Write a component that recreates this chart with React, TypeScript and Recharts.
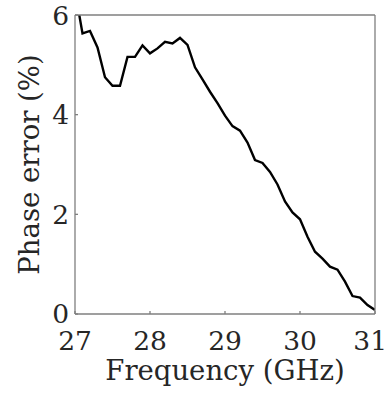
import { LineChart, Line, XAxis, YAxis } from "recharts";

const frequency = [
  27.0, 27.1, 27.2, 27.3, 27.4, 27.5, 27.6, 27.7, 27.8, 27.9,
  28.0, 28.1, 28.2, 28.3, 28.4, 28.5, 28.6, 28.7, 28.8, 28.9,
  29.0, 29.1, 29.2, 29.3, 29.4, 29.5, 29.6, 29.7, 29.8, 29.9,
  30.0, 30.1, 30.2, 30.3, 30.4, 30.5, 30.6, 30.7, 30.8, 30.9, 31.0,
];

const phaseError = [
  6.49, 5.63, 5.68, 5.35, 4.75, 4.58, 4.58, 5.16, 5.16, 5.39,
  5.23, 5.33, 5.46, 5.43, 5.54, 5.40, 4.95, 4.71, 4.46, 4.23,
  3.98, 3.77, 3.68, 3.44, 3.09, 3.03, 2.85, 2.60, 2.26, 2.04,
  1.90, 1.55, 1.25, 1.11, 0.95, 0.89, 0.65, 0.36, 0.33, 0.18, 0.08,
];

const xTicks = [27, 28, 29, 30, 31];
const yTicks = [0, 2, 4, 6];

const data = frequency.map((f, i) => ({ f, v: phaseError[i] }));

const FONT = "'DejaVu Serif', 'Liberation Serif', serif";
const AXIS = "#7f7f7f";
const tickStyle = { fontSize: 26.5, fill: "#262626", style: { fontFamily: FONT } };

// eslint-disable-next-line @typescript-eslint/no-explicit-any
function XLabel(props: any) {
  const vb = props.viewBox;
  return (
    <text
      x={vb.x + vb.width / 2}
      y={vb.y + 66}
      textAnchor="middle"
      fontSize={27.5}
      fill="#262626"
      style={{ fontFamily: FONT }}
    >
      Frequency (GHz)
    </text>
  );
}

// eslint-disable-next-line @typescript-eslint/no-explicit-any
function YLabel(props: any) {
  const vb = props.viewBox;
  const cx = 39;
  const cy = vb.y + vb.height / 2;
  return (
    <text
      x={cx}
      y={cy}
      transform={`rotate(-90, ${cx}, ${cy})`}
      textAnchor="middle"
      fontSize={27.5}
      fill="#262626"
      style={{ fontFamily: FONT }}
    >
      Phase error (%)
    </text>
  );
}

export default function App() {
  return (
    <div style={{ position: "absolute", left: 0, top: 0, background: "#fff" }}>
      <LineChart
        width={387}
        height={394}
        data={data}
        margin={{ top: 15, right: 12, left: 0, bottom: 0 }}
      >
        <XAxis
          dataKey="f"
          type="number"
          domain={[27, 31]}
          ticks={xTicks}
          allowDataOverflow
          height={80}
          stroke={AXIS}
          strokeWidth={1.3}
          tickSize={-3}
          tickMargin={20}
          tick={tickStyle}
          label={<XLabel />}
        />
        <XAxis
          xAxisId="top"
          orientation="top"
          mirror
          type="number"
          domain={[27, 31]}
          ticks={xTicks}
          allowDataOverflow
          stroke={AXIS}
          strokeWidth={1.3}
          tickSize={3}
          tick={false}
        />
        <YAxis
          type="number"
          domain={[0, 6]}
          ticks={yTicks}
          allowDataOverflow
          width={75}
          stroke={AXIS}
          strokeWidth={1.3}
          tickSize={-3}
          tickMargin={9}
          tick={tickStyle}
          label={<YLabel />}
        />
        <YAxis
          yAxisId="right"
          orientation="right"
          mirror
          type="number"
          domain={[0, 6]}
          ticks={yTicks}
          allowDataOverflow
          stroke={AXIS}
          strokeWidth={1.3}
          tickSize={3}
          tick={false}
        />
        <Line
          type="linear"
          dataKey="v"
          stroke="#000"
          strokeWidth={2.4}
          dot={false}
          isAnimationActive={false}
        />
      </LineChart>
    </div>
  );
}
